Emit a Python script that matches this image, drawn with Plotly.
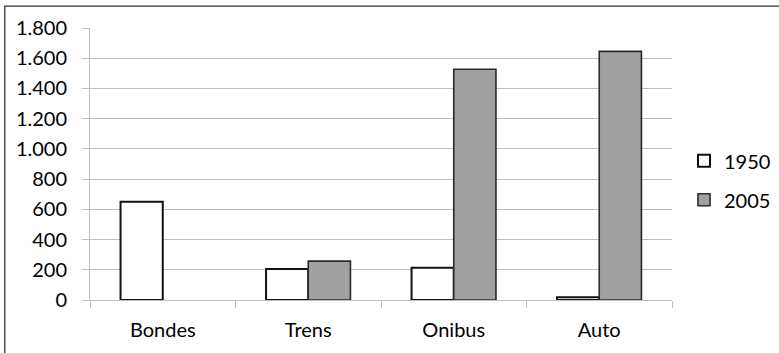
import plotly.graph_objects as go

categories = ["Bondes", "Trens", "Onibus", "Auto"]
values_1950 = [650, 205, 213, 18]
values_2005 = [None, 257, 1527, 1645]
series_names = ["1950", "2005"]
y_ticks = [0, 200, 400, 600, 800, 1000, 1200, 1400, 1600, 1800]

fig = go.Figure()
fig.add_trace(go.Bar(
    x=categories, y=values_1950, name=series_names[0], legendgroup="a",
    marker=dict(color="white", line=dict(color="#111111", width=2)),
))
fig.add_trace(go.Bar(
    x=categories, y=values_2005, name=series_names[1], legendgroup="b",
    marker=dict(color="#A0A0A0", line=dict(color="#2a2a2a", width=1.6)),
))

font = "Lato, 'Open Sans', sans-serif"
fig.update_layout(
    width=779, height=353,
    margin=dict(l=90, r=105, t=28, b=52),
    paper_bgcolor="white", plot_bgcolor="white",
    barmode="group", bargap=0.42, bargroupgap=0,
    separators=",.",
    font=dict(family=font, size=20, color="black"),
    showlegend=True,
    legend=dict(
        xref="container", x=684 / 779, xanchor="left",
        y=0.44, yanchor="middle",
        traceorder="grouped", tracegroupgap=10,
        font=dict(size=20, family=font),
        itemwidth=30,
    ),
    xaxis=dict(
        showline=True, linecolor="#BFBFBF", linewidth=1,
        ticks="outside", ticklen=7, tickcolor="#BFBFBF",
        tickson="boundaries", showgrid=False,
        tickfont=dict(size=20, family=font),
        ticklabelstandoff=12,
    ),
    yaxis=dict(
        range=[0, 1800], tickvals=y_ticks, tickformat=",d",
        showline=True, linecolor="#BFBFBF", linewidth=1,
        ticks="outside", ticklen=7, tickcolor="#BFBFBF",
        showgrid=True, gridcolor="#BFBFBF", gridwidth=1,
        zeroline=False,
        tickfont=dict(size=20, family=font),
        ticklabelstandoff=11,
    ),
    shapes=[dict(
        type="rect", xref="paper", yref="paper",
        x0=(4.5 - 90) / 584, x1=(779 + 10 - 90) / 584,
        y0=-(353 + 10 - 301) / 273, y1=(301 - 6) / 273,
        line=dict(color="#333333", width=1.3), fillcolor="rgba(0,0,0,0)",
        layer="above",
    )],
)

fig.write_html("out.html", config={"displayModeBar": False},
               post_script="document.body.style.margin='0';")
